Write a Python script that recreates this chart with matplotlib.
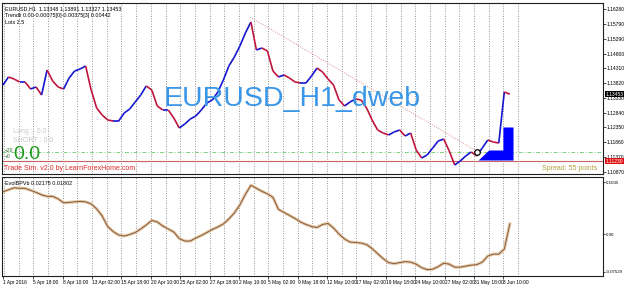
import numpy as np
import matplotlib.pyplot as plt
from matplotlib.collections import LineCollection

# one sample every 12 hourly bars
step = 12
closes = [1.13757, 1.14023, 1.13956, 1.13857, 1.13857, 1.13624, 1.13691, 1.13425, 1.14255, 1.13890,
          1.13691, 1.13624, 1.13989, 1.14222, 1.14288, 1.14388, 1.13591, 1.12993, 1.12761, 1.12595,
          1.12562, 1.12562, 1.12827, 1.12960, 1.13193, 1.13425, 1.13724, 1.13591, 1.13060, 1.12927,
          1.12927, 1.12661, 1.12329, 1.12462, 1.12628, 1.12728, 1.12927, 1.13159, 1.13259, 1.13525,
          1.13923, 1.14388, 1.14687, 1.15052, 1.15483, 1.15849, 1.14919, 1.14985, 1.14886, 1.14222,
          1.14023, 1.14089, 1.13989, 1.13857, 1.13823, 1.13823, 1.14056, 1.14321, 1.14189, 1.13956,
          1.13757, 1.13259, 1.13060, 1.13193, 1.13292, 1.13259, 1.12993, 1.12595, 1.12263, 1.12163,
          1.12097, 1.12197, 1.12263, 1.12064, 1.12163, 1.11599, 1.11333, 1.11433, 1.11665, 1.11897,
          1.11964, 1.11566, 1.11101, 1.11234, 1.11400, 1.11533, 1.11400, 1.11665, 1.11931, 1.11864,
          1.11831, 1.13525, 1.13453]

osc = [0.084, 0.088, 0.092, 0.091, 0.091, 0.087, 0.083, 0.078, 0.075, 0.075,
       0.070, 0.062, 0.063, 0.064, 0.065, 0.064, 0.060, 0.050, 0.036, 0.015,
       0.005, -0.002, -0.004, -0.001, 0.003, 0.010, 0.018, 0.027, 0.024, 0.016,
       0.010, 0.004, -0.009, -0.014, -0.014, -0.008, -0.003, 0.003, 0.009, 0.014,
       0.020, 0.030, 0.042, 0.058, 0.079, 0.097, 0.091, 0.085, 0.080, 0.073,
       0.049, 0.043, 0.037, 0.031, 0.024, 0.019, 0.015, 0.013, 0.019, 0.021,
       0.012, 0.000, -0.010, -0.016, -0.017, -0.018, -0.021, -0.029, -0.039, -0.049,
       -0.057, -0.059, -0.057, -0.055, -0.056, -0.060, -0.067, -0.071, -0.070, -0.065,
       -0.058, -0.060, -0.066, -0.066, -0.064, -0.062, -0.061, -0.056, -0.044, -0.040,
       -0.040, -0.030, 0.020]

date_labels = ["1 Apr 2016", "5 Apr 18:00", "8 Apr 10:00", "13 Apr 02:00", "15 Apr 18:00",
               "20 Apr 10:00", "25 Apr 02:00", "27 Apr 18:00", "2 May 10:00", "5 May 02:00",
               "9 May 18:00", "12 May 10:00", "17 May 02:00", "19 May 18:00", "24 May 10:00",
               "27 May 02:00", "31 May 18:00", "3 Jun 10:00"]
date_bars = [0] + [66 + 64 * i for i in range(17)]

price_ticks = [1.16280, 1.15790, 1.15290, 1.14800, 1.14310, 1.13820, 1.13330,
               1.12840, 1.12350, 1.11860, 1.11370, 1.10870]
osc_ticks = [0.1035, 0.0, -0.07529]
osc_tick_labels = ["0.1035", "0.00", "-0.07529"]

# trade sim overlays
trend_bars = [538, 1035]
trend_prices = [1.16015, 1.11533]
fill_bars = [1035, 1058, 1089, 1089, 1111]
fill_top = [1.11267, 1.11599, 1.11599, 1.12363, 1.12363]
fill_bottom = 1.11267
last_price = 1.13453
stop_price = 1.11230
entry_price = 1.11533
entry_bar = 1033

bars = np.arange(len(closes)) * step
x_lo, x_hi = -2.2, 1307

fig = plt.figure(figsize=(6.25, 2.89), dpi=100)
fig.patch.set_facecolor("white")
ax = fig.add_axes([2 / 625, 1 - 174 / 289, 601 / 625, 171 / 289])
ax2 = fig.add_axes([2 / 625, 1 - 276 / 289, 601 / 625, 99 / 289])

font = ["Liberation Sans", "DejaVu Sans"]
small = 3.9
axis_fs = 3.6

for a in (ax, ax2):
    a.set_xlim(x_lo, x_hi)
    for s in a.spines.values():
        s.set_linewidth(0.8)
        s.set_color("#202020")
    a.vlines(range(2, 1123, 32), 0, 1, transform=a.get_xaxis_transform(),
             colors="#707070", linewidth=0.6, linestyles=(0, (1, 2)), zorder=0)
    a.yaxis.tick_right()
    a.tick_params(axis="y", length=2, width=0.5, labelsize=axis_fs, pad=0.8)

# main price panel
ax.set_ylim(1.10802, 1.16479)
ax.set_xticks([])
ax.set_yticks(price_ticks)
ax.set_yticklabels(["%.5f" % p for p in price_ticks], fontfamily=font)

pts = np.column_stack([bars, closes])
segs = np.stack([pts[:-1], pts[1:]], axis=1)
cols = ["#1515d0" if closes[i + 1] >= closes[i] else "#c0143c" for i in range(len(closes) - 1)]
ax.add_collection(LineCollection(segs, colors=cols, linewidths=1.2, zorder=3))

ax.plot(trend_bars, trend_prices, color="#e08a8a", linewidth=0.7, linestyle=(0, (1, 1.5)), zorder=2)
ax.fill_between(fill_bars, fill_bottom, fill_top, color="#0000ff", linewidth=0, zorder=4)
ax.axhline(stop_price, color="#c86464", linewidth=0.8, zorder=2)
ax.axhline(entry_price, color="#80d080", linewidth=0.7, linestyle=(0, (4, 2, 1, 2)), zorder=2)
ax.plot([entry_bar], [entry_price], "o", markersize=4, markerfacecolor="white",
        markeredgecolor="black", markeredgewidth=0.9, zorder=5)

ax.text(0.483, 0.398, "EURUSD_H1_dweb", transform=ax.transAxes, ha="center", va="baseline",
        fontsize=20.5, color="#3a96e6", family=font, zorder=6)

ax.text(0.005, 0.983, "EURUSD,H1  1.13348 1.13891 1.13327 1.13453", transform=ax.transAxes,
        fontsize=small, va="top", family=font)
ax.text(0.005, 0.942, "Trendli 0.00-0.00075[0]-0.00375[3] 0.00442", transform=ax.transAxes,
        fontsize=small, va="top", family=font)
ax.text(0.005, 0.900, "Lots 2.5", transform=ax.transAxes, fontsize=small, va="top", family=font)
ax.text(0.018, 0.25, "Long :  0.0", transform=ax.transAxes, fontsize=5, color="#c8c8c8",
        va="center", family=font)
ax.text(0.018, 0.198, "SHORT : 0.0", transform=ax.transAxes, fontsize=5, color="#c8c8c8",
        va="center", family=font)
ax.text(0.004, 0.14, "+20", transform=ax.transAxes, fontsize=3.5, color="#206020", va="center", family=font)
ax.text(0.004, 0.10, "+0", transform=ax.transAxes, fontsize=3.5, color="#206020", va="center", family=font)
ax.text(0.019, 0.115, "0.0", transform=ax.transAxes, fontsize=14, color="#1c9a1c", va="center", family=font)
ax.text(0.004, 0.035, "Trade Sim. v2.0 by LearnForexHome.com", transform=ax.transAxes,
        fontsize=5, color="#e02828", va="center", family=font)
ax.text(0.99, 0.035, "Spread: 55 points", transform=ax.transAxes, fontsize=5, color="#b0a040",
        ha="right", va="center", family=font)

for price, bg in ((last_price, "black"), (stop_price, "#e01010")):
    ax.text(1.0045, price, "%.5f" % price, transform=ax.get_yaxis_transform(), fontsize=axis_fs,
            color="white", va="center", ha="left", family=font, zorder=10, clip_on=False,
            bbox=dict(boxstyle="square,pad=0.15", facecolor=bg, edgecolor="none"))

# oscillator panel
ax2.set_ylim(-0.0836, 0.1135)
ax2.plot(bars, osc, color="#e2c8a8", linewidth=2.2, zorder=2)
ax2.plot(bars, osc, color="#8a5a3a", linewidth=0.7, zorder=3)
ax2.set_yticks(osc_ticks)
ax2.set_yticklabels(osc_tick_labels, fontfamily=font, fontsize=3.2)
ax2.tick_params(axis="y", length=1.5, pad=0.5)
ax2.set_xticks(date_bars)
ax2.set_xticklabels(date_labels, fontsize=3.5, ha="left", fontfamily=font)
ax2.tick_params(axis="x", length=2, width=0.5, pad=1)
ax2.text(0.005, 0.955, "EvolBPVb 0.02175 0.01802", transform=ax2.transAxes, fontsize=small,
         va="top", family=font)

fig.savefig("out.png", dpi=100)
